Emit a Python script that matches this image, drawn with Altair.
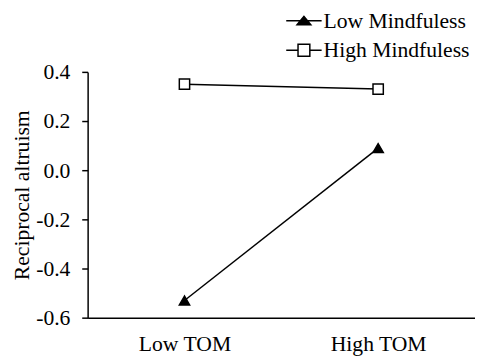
import altair as alt
import pandas as pd

tom_levels = ["Low TOM", "High TOM"]
groups = ["Low Mindfuless", "High Mindfuless"]
low_mind = [-0.53, 0.09]
high_mind = [0.35, 0.33]
y_ticks = [-0.6, -0.4, -0.2, 0.0, 0.2, 0.4]

rows = []
for g, vals in zip(groups, [low_mind, high_mind]):
    for t, v in zip(tom_levels, vals):
        rows.append({"tom": t, "group": g, "value": v})
df = pd.DataFrame(rows)

FONT = "Liberation Serif, Times New Roman, DejaVu Serif, serif"
FS = 22

x = alt.X(
    "tom:N", sort=tom_levels,
    scale=alt.Scale(type="point", padding=0.5),
    axis=alt.Axis(title=None, labelAngle=0, ticks=False, tickSize=0, labelPadding=16,
                  domainColor="black", domainWidth=1.5, labelFontSize=FS, labelFont=FONT,
                  labelColor="black"),
)
y = alt.Y(
    "value:Q",
    scale=alt.Scale(domain=[-0.6, 0.4], nice=False, zero=False),
    axis=alt.Axis(title="Reciprocal altruism", values=y_ticks, grid=False,
                  labelExpr="replace(format(datum.value, '.1f'), '−', '-')",
                  tickSize=6, tickColor="black", tickWidth=1.5, labelPadding=12,
                  domainColor="black", domainWidth=1.5, labelFontSize=FS, labelFont=FONT,
                  labelColor="black", titleFont=FONT, titleFontSize=FS,
                  titleFontWeight="normal", titleColor="black", titlePadding=2),
)

lines = alt.Chart(df).mark_line(color="black", strokeWidth=1.5).encode(
    x=x, y=y, detail="group:N"
)

points = alt.Chart(df).mark_point(size=110, strokeWidth=1.5, opacity=1, fillOpacity=1, stroke="black").encode(
    x=x, y=y,
    shape=alt.Shape("group:N", scale=alt.Scale(domain=groups, range=["triangle-up", "square"]), legend=None),
    fill=alt.Fill("group:N", scale=alt.Scale(domain=groups, range=["black", "white"]), legend=None),
)

tri_path = "M-1.8,0H1.8M-0.7,0.4L0,-0.45L0.7,0.4Z"
sq_path = "M-1.8,0H-0.6M0.6,0H1.8M-0.6,-0.6H0.6V0.6H-0.6Z"

leg = alt.Legend(orient="none", legendX=209, legendY=-63, title=None,
                 labelFont=FONT, labelFontSize=FS, labelColor="black",
                 symbolSize=400, labelOffset=9, rowPadding=8,
                 symbolStrokeColor="black", symbolStrokeWidth=1.5)

legend_layer = alt.Chart(df).transform_filter("false").mark_point(
    size=400, strokeWidth=1.5, opacity=1, fillOpacity=1
).encode(
    x=x, y=y,
    shape=alt.Shape("group:N", scale=alt.Scale(domain=groups, range=[tri_path, sq_path]), legend=leg),
    fill=alt.Fill("group:N", scale=alt.Scale(domain=groups, range=["black", "white"]), legend=leg),
    stroke=alt.Stroke("group:N", scale=alt.Scale(domain=groups, range=["black", "black"]), legend=leg),
)

chart = alt.layer(lines, points, legend_layer).resolve_scale(
    shape="independent", fill="independent", stroke="independent"
).properties(
    width=394, height=250,
    autosize=alt.AutoSizeParams(type="none"),
    padding={"left": 81, "top": 62, "right": 0, "bottom": 36},
).configure_view(stroke=None)

chart.save("out.html", embed_options={"renderer": "svg", "actions": False})
